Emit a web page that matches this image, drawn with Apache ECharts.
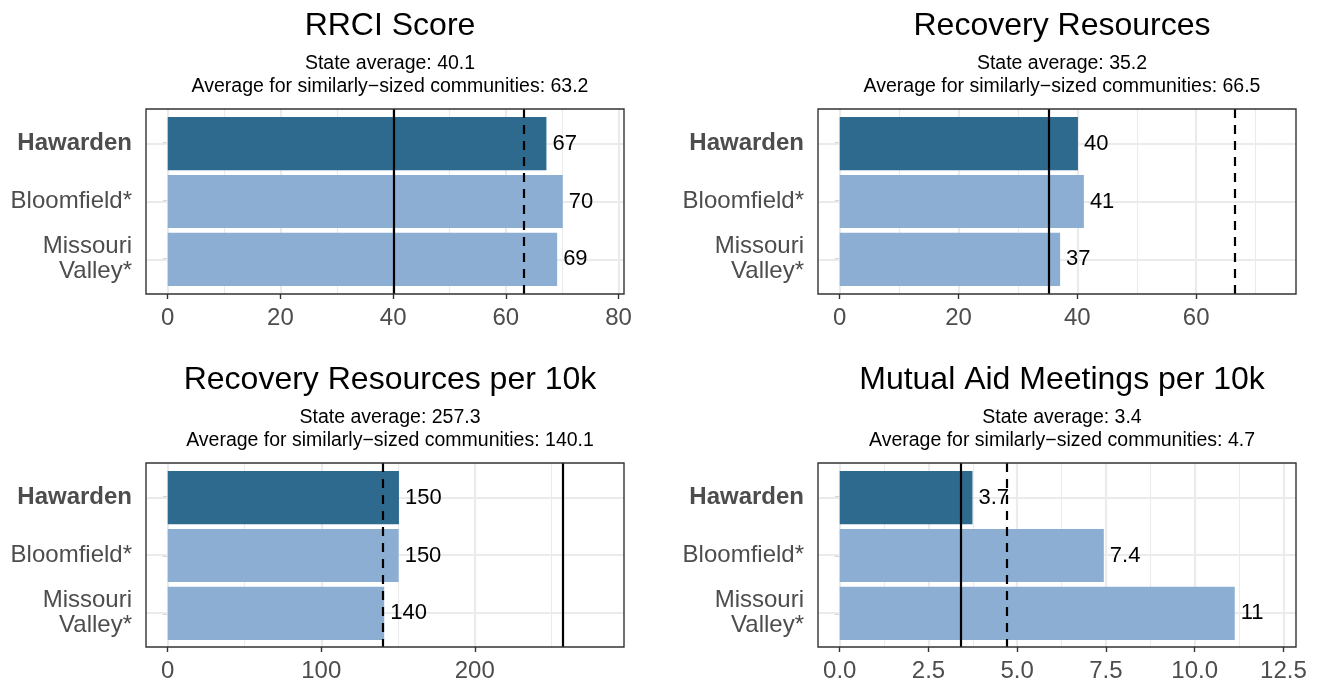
<!DOCTYPE html>
<html>
<head>
<meta charset="utf-8">
<script src="https://cdn.jsdelivr.net/npm/echarts@6/dist/echarts.min.js"></script>
<style>
  html, body { margin: 0; padding: 0; background: #fff; }
  #chart { width: 1326px; height: 683px; }
</style>
</head>
<body>
<div id="chart"></div>
<script>
// data
const categories = ['Hawarden', 'Bloomfield*', 'Missouri\nValley*'];
const rrciValues = [67.2, 70.1, 69.1];
const resourceValues = [40.1, 41.1, 37.1];
const perTenKValues = [150.6, 150.4, 141.0];
const meetingValues = [3.74, 7.44, 11.13];
const stateAvg = [40.1, 35.2, 257.3, 3.4];
const similarAvg = [63.2, 66.5, 140.1, 4.7];
const panelTitles = ['RRCI Score', 'Recovery Resources', 'Recovery Resources per 10k', 'Mutual Aid Meetings per 10k'];
const majorTicks = [[0, 20, 40, 60, 80], [0, 20, 40, 60], [0, 100, 200], [0, 2.5, 5, 7.5, 10, 12.5]];
const minorTicks = [[10, 30, 50, 70], [10, 30, 50, 70], [50, 150, 250], [1.25, 3.75, 6.25, 8.75, 11.25]];
const tickLabels = [['0', '20', '40', '60', '80'], ['0', '20', '40', '60'], ['0', '100', '200'], ['0.0', '2.5', '5.0', '7.5', '10.0', '12.5']];

const allValues = [rrciValues, resourceValues, perTenKValues, meetingValues];
const FONT = 'Liberation Sans, Arial, Helvetica, sans-serif';
const DARK = '#2e6a8e';
const LIGHT = '#8caed3';
const GRID_COL = '#ebebeb';

// panel frames
const panelLeft = [146, 818, 146, 818];
const panelTop = [109, 109, 463, 463];
const panelW = 478, panelH = 185;

const chart = echarts.init(document.getElementById('chart'));

const grids = [], xAxes = [], yAxes = [], series = [], titles = [];

function signif2(v) {
    return String(Number(v.toPrecision(2)));
}

for (let i = 0; i < 4; i++) {
    const vals = allValues[i];
    const top = 1.1 * Math.max(...vals, stateAvg[i], similarAvg[i]);
    const pad = 0.05 * top;
    const xmin = -pad, xmax = top + pad;
    const frame = 2 * i, inner = 2 * i + 1;

    // frame grid (border, gridlines, average lines, x axis)
    grids.push({
        left: panelLeft[i], top: panelTop[i], width: panelW, height: panelH,
        show: true, borderColor: '#333333', borderWidth: 1.4, backgroundColor: 'transparent', z: 10
    });
    // inner grid for the bars (ggplot discrete padding 0.6)
    grids.push({
        left: panelLeft[i], top: panelTop[i] + panelH * 0.1 / 3.2,
        width: panelW, height: panelH * 3 / 3.2
    });

    xAxes.push({
        type: 'value', gridIndex: frame, min: xmin, max: xmax,
        axisLine: { show: false },
        splitLine: { show: false },
        axisTick: { show: true, customValues: majorTicks[i], length: 5, lineStyle: { color: '#333', width: 1.4 } },
        axisLabel: {
            customValues: majorTicks[i], margin: 12, fontSize: 24, color: '#4d4d4d', fontFamily: FONT,
            formatter: v => tickLabels[i][majorTicks[i].indexOf(v)]
        }
    });
    xAxes.push({ type: 'value', gridIndex: inner, min: xmin, max: xmax, show: false });

    yAxes.push({ type: 'value', gridIndex: frame, min: 0.4, max: 3.6, inverse: true, show: false });
    yAxes.push({
        type: 'category', gridIndex: inner, inverse: true,
        data: categories.map((c, k) => k === 0 ? { value: c, textStyle: { fontWeight: 'bold' } } : c),
        axisLine: { show: false },
        axisTick: { show: true, alignWithLabel: true, length: 5, lineStyle: { color: '#333', width: 1.4 } },
        axisLabel: { margin: 14, fontSize: 24, color: '#4d4d4d', fontFamily: FONT, lineHeight: 25, align: 'right' },
        splitLine: { show: false }
    });

    const gridLines = [];
    majorTicks[i].forEach(v => gridLines.push({ xAxis: v, lineStyle: { width: 2.2 } }));
    minorTicks[i].forEach(v => gridLines.push({ xAxis: v, lineStyle: { width: 1.1 } }));
    [1, 2, 3].forEach(v => gridLines.push({ yAxis: v, lineStyle: { width: 2.2 } }));

    series.push({
        type: 'scatter', xAxisIndex: frame, yAxisIndex: frame, data: [[0, 2]], symbolSize: 0, z: 1, silent: true,
        markLine: {
            z: 1, silent: true, symbol: 'none', label: { show: false },
            lineStyle: { color: GRID_COL, type: 'solid' },
            data: gridLines
        }
    });

    series.push({
        type: 'bar', xAxisIndex: inner, yAxisIndex: inner, z: 2, barWidth: '92%',
        data: vals.map((v, k) => ({ value: v, itemStyle: { color: k === 0 ? DARK : LIGHT } })),
        label: {
            show: true, position: 'right', distance: 6, fontSize: 22, color: '#000', fontFamily: FONT,
            formatter: p => signif2(p.value)
        }
    });

    series.push({
        type: 'scatter', xAxisIndex: frame, yAxisIndex: frame, data: [[0, 2]], symbolSize: 0, z: 5, silent: true,
        markLine: {
            z: 5, silent: true, symbol: 'none', label: { show: false },
            data: [
                { xAxis: stateAvg[i], lineStyle: { color: '#000', width: 2.2, type: 'solid' } },
                { xAxis: similarAvg[i], lineStyle: { color: '#000', width: 2.2, type: [9, 7] } }
            ]
        }
    });

    titles.push({
        text: panelTitles[i],
        subtext: 'State average: ' + stateAvg[i] + '\nAverage for similarly\u2212sized communities: ' + similarAvg[i],
        left: panelLeft[i] + panelW / 2, top: panelTop[i] - 105, textAlign: 'center', itemGap: 9,
        textStyle: { fontSize: 32, fontWeight: 'normal', color: '#000', fontFamily: FONT, lineHeight: 34 },
        subtextStyle: { fontSize: 19.5, color: '#000', fontFamily: FONT, lineHeight: 23 }
    });
}

chart.setOption({
    animation: false,
    title: titles,
    grid: grids,
    xAxis: xAxes,
    yAxis: yAxes,
    series: series
});
</script>
</body>
</html>
